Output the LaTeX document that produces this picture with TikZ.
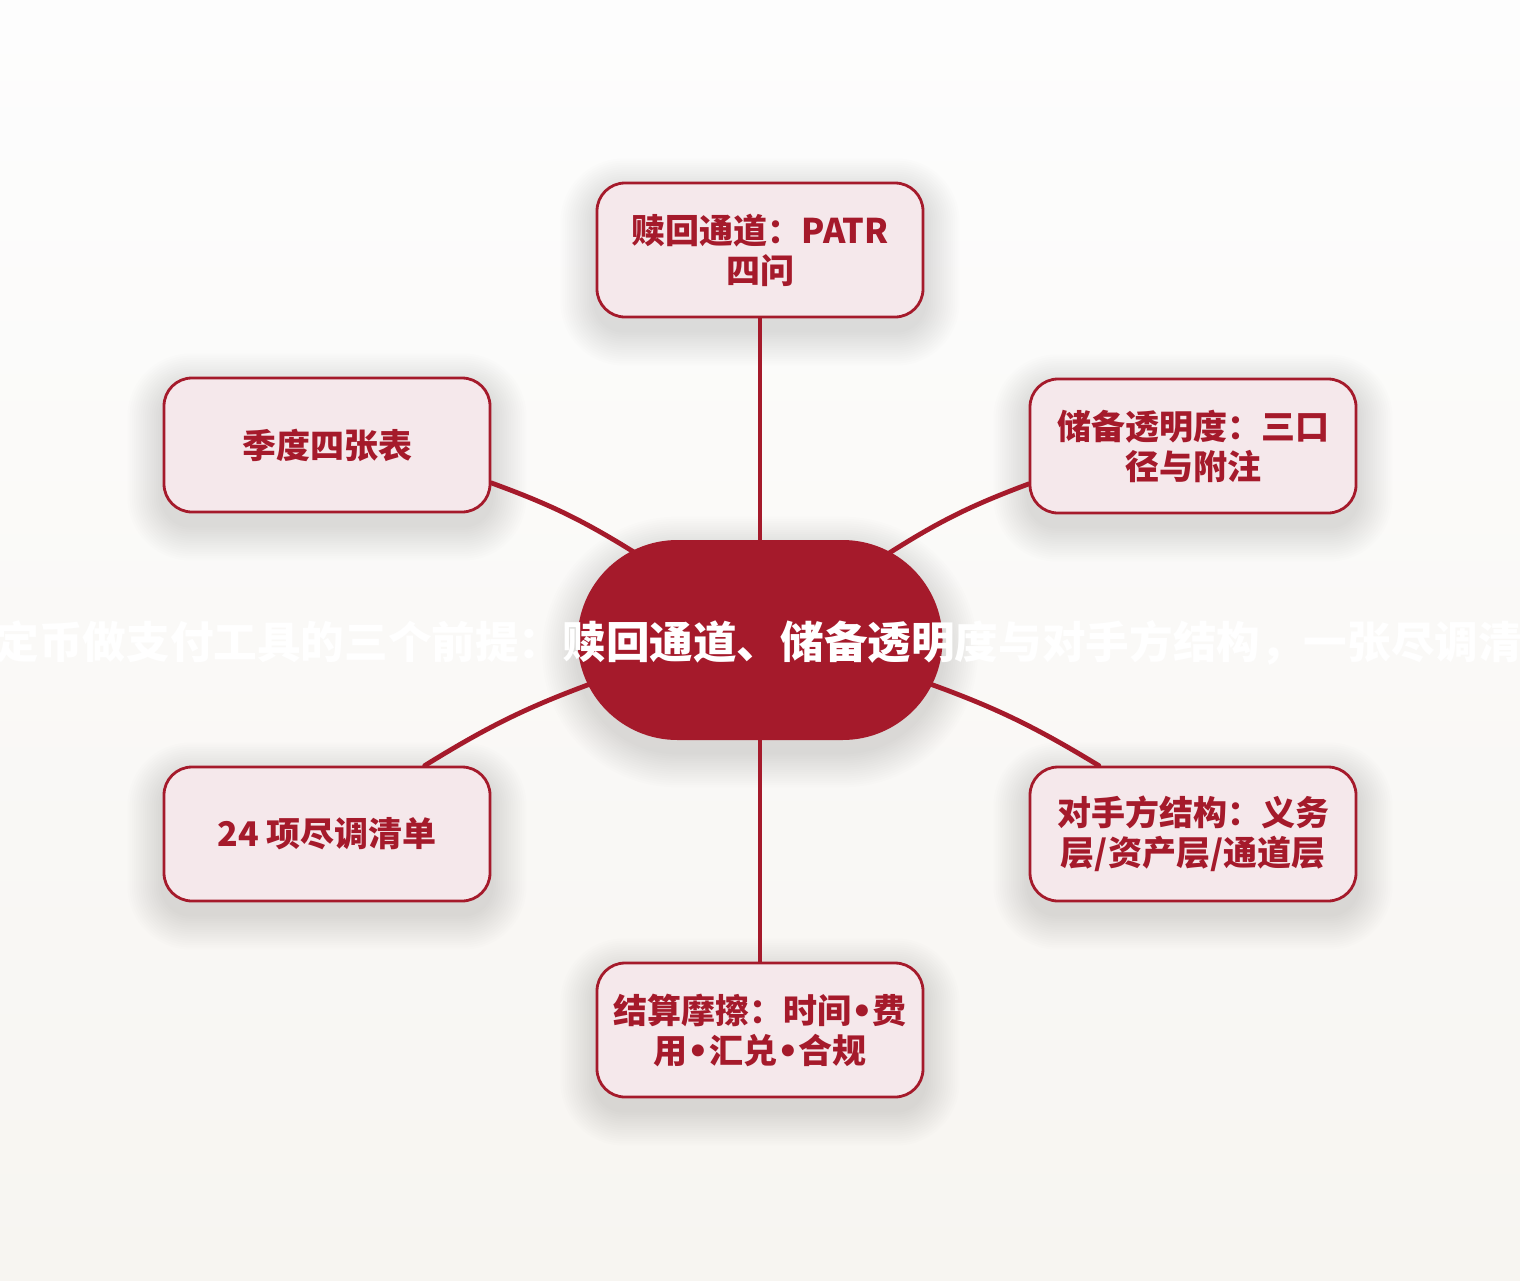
\documentclass[tikz,border=0pt]{standalone}
\usepackage{fontspec}
\newfontfamily\cjk{Noto Sans CJK SC}
\newfontfamily\lat{DejaVu Sans}
\newcommand\bul{{\lat\bfseries •}}
\usetikzlibrary{calc}
\definecolor{cred}{HTML}{A51A2B}
\definecolor{cfill}{HTML}{F5E8EB}
\definecolor{bgtop}{HTML}{FDFDFD}
\definecolor{bgbot}{HTML}{F7F5F1}
\pgfdeclarelayer{bg}\pgfdeclarelayer{shad}\pgfdeclarelayer{edges}
\pgfsetlayers{bg,shad,edges,main}
\tikzset{
 leaf/.style={draw=cred, line width=2.8pt, fill=cfill, rounded corners=28pt,
   minimum width=326pt, minimum height=134pt, inner sep=0pt, align=center,
   text=cred, font=\cjk\bfseries\fontsize{34}{40}\selectfont},
 hub/.style={fill=cred, rounded corners=100pt, minimum width=365pt,
   minimum height=200pt, inner sep=0pt},
 link/.style={draw=cred, line width=4.8pt, line cap=round},
 hubtext/.style={text=white, font=\cjk\bfseries\fontsize{43.6}{50}\selectfont,
   inner sep=0pt, anchor=base west}
}
\newcommand\softshadow[3]{%
 \foreach \k in {1,...,16}{%
  \pgfmathsetmacro\rr{#2+\k*2.2}%
  \pgfmathsetmacro\ee{\k*2.2}%
  \fill[black, opacity=0.009, rounded corners=\rr pt]
    ($(#1.south west)+(-\ee pt,-\ee pt-#3 pt)$) rectangle
    ($(#1.north east)+(\ee pt,\ee pt-#3 pt)$);
 }}
\begin{document}
\begin{tikzpicture}[x=1pt,y=-1pt]
\useasboundingbox (0,0) rectangle (1520,1280);
\begin{pgfonlayer}{bg}
\fill[top color=bgtop,bottom color=bgbot] (0,0) rectangle (1520,1280);
\end{pgfonlayer}
\node[hub] (c) at (760,640) {};
\node[hubtext] (ct) at (-48,658) {稳定币做支付工具的三个前提：赎回通道、储备透明度与对手方结构，一张尽调清单};
\node[leaf] (t) at (760,250) {赎回通道：PATR\\四问};
\node[leaf] (tl) at (327,445) {季度四张表};
\node[leaf] (tr) at (1193,446) {储备透明度：三口\\径与附注};
\node[leaf] (bl) at (327,834) {24 项尽调清单};
\node[leaf] (br) at (1193,834) {对手方结构：义务\\层/资产层/通道层};
\node[leaf] (b) at (760,1030) {结算摩擦：时间\bul 费\\用\bul 汇兑\bul 合规};
\begin{pgfonlayer}{shad}
\softshadow{c}{100}{12}
\softshadow{t}{28}{12}
\softshadow{tl}{28}{12}
\softshadow{tr}{28}{12}
\softshadow{bl}{28}{12}
\softshadow{br}{28}{12}
\softshadow{b}{28}{12}
\end{pgfonlayer}
\begin{pgfonlayer}{edges}
\draw[link] (t.south) -- (c.north);
\draw[link] (b.north) -- (c.south);
\draw[link] (tl.-13.5) to[bend left=6] ($(c)!0.85!(c.145.7)$);
\draw[link] (tr.193.8) to[bend right=6] ($(c)!0.85!(c.34.7)$);
\draw[link] (bl.35.8) to[bend left=6] ($(c)!0.85!(c.194.4)$);
\draw[link] (br.144.2) to[bend right=6] ($(c)!0.85!(c.-14.4)$);
\end{pgfonlayer}
\end{tikzpicture}
\end{document}
